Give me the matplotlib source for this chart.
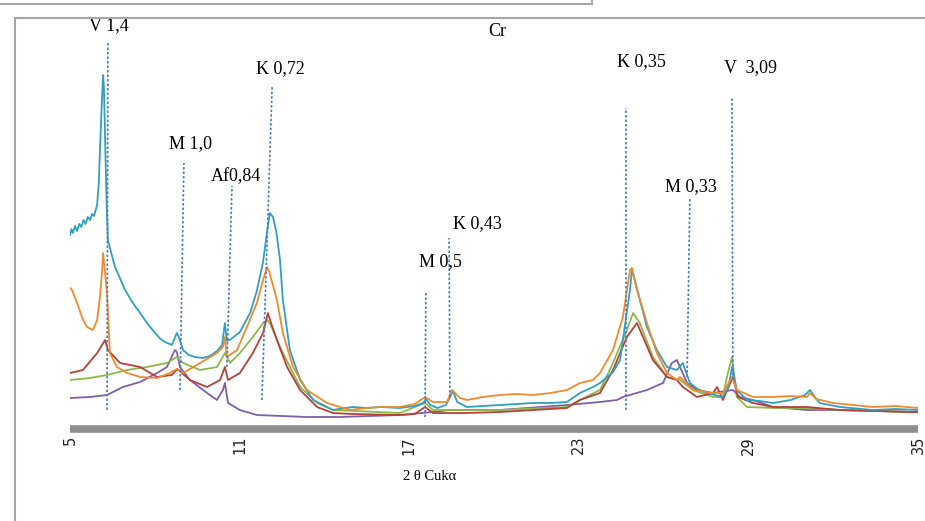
import matplotlib
matplotlib.use("Agg")
import matplotlib.pyplot as plt
from matplotlib.lines import Line2D

# 2theta (deg) and intensity (arbitrary units)
teal_x = [5.00, 5.05, 5.10, 5.18, 5.25, 5.33, 5.40, 5.48, 5.55, 5.63, 5.71, 5.78, 5.85, 5.92, 5.96, 6.02,
          6.06, 6.13, 6.17, 6.20, 6.24, 6.29, 6.34,
          6.45, 6.59, 6.75, 6.95, 7.20, 7.48, 7.75, 8.01, 8.20, 8.36, 8.60, 8.78, 8.85, 9.00, 9.20, 9.42,
          9.70, 9.95, 10.20, 10.38, 10.48, 10.55, 10.70, 11.01, 11.20, 11.37, 11.60, 11.83, 11.97, 12.07,
          12.18, 12.30, 12.43, 12.53, 12.78, 13.14, 13.60, 14.30, 15.00, 15.50, 16.00, 16.67, 17.20, 17.49,
          17.59, 17.75, 18.00, 18.30, 18.55, 18.70, 19.04, 19.60, 20.21, 20.80, 21.38, 22.00, 22.58, 23.04,
          23.50, 23.75, 24.21, 24.46, 24.70, 24.81, 24.88, 24.95, 25.16, 25.41, 25.76, 26.12, 26.47, 26.68,
          26.93, 27.20, 27.53, 28.10, 28.30, 28.42, 28.59, 28.95, 29.40, 29.87, 30.50, 31.00, 31.18, 31.40,
          31.53, 32.24, 33.40, 34.20, 35.00]
teal_y = [192, 198, 194, 201, 196, 203, 200, 207, 203, 210, 207, 213, 211, 218, 222, 245,
          277, 327, 352, 340, 290, 230, 187,
          175, 160, 150, 137, 125, 114, 103, 94, 88, 85, 82, 94, 90, 77, 72, 70,
          69, 71, 76, 82, 104, 86, 88, 95, 105, 114, 135, 165, 195, 214,
          210, 195, 167, 127, 77, 47, 27, 17, 20, 19, 20, 19, 21, 24,
          28, 22, 19, 22, 36, 25, 20, 21, 22, 23, 24, 24, 25, 34,
          40, 44, 55, 67, 115, 137, 157, 150, 127, 100, 77, 60, 57, 64,
          44, 38, 34, 30, 40, 60, 37, 27, 26, 24, 27, 32, 37, 28,
          24, 20, 17, 18, 17]

orange_x = [5.00, 5.07, 5.25, 5.45, 5.60, 5.81, 5.96, 6.06, 6.13, 6.17, 6.22, 6.31, 6.41, 6.66, 7.02,
            7.48, 8.08, 8.54, 8.78, 9.00, 9.60, 10.20, 10.41, 10.48, 10.55, 10.91, 11.26, 11.61, 11.83,
            11.97, 12.05, 12.32, 12.53, 12.89, 13.38, 14.09, 14.90, 15.50, 16.00, 16.67, 17.20, 17.56,
            17.84, 18.34, 18.51, 18.80, 19.04, 19.60, 20.21, 20.80, 21.38, 22.00, 22.58, 23.04, 23.50,
            23.75, 24.21, 24.56, 24.81, 24.88, 25.06, 25.41, 25.76, 26.12, 26.47, 26.58, 27.04, 27.75,
            28.10, 28.42, 28.59, 29.16, 29.87, 30.50, 31.07, 31.18, 31.40, 31.99, 33.40, 34.20, 35.00]
orange_y = [139, 137, 124, 108, 100, 97, 107, 130, 154, 174, 160, 134, 74, 60, 54,
            50, 49, 54, 58, 54, 64, 74, 80, 90, 70, 77, 100, 124, 147,
            160, 155, 127, 94, 60, 37, 24, 17, 19, 20, 20, 23, 30,
            25, 25, 37, 29, 27, 30, 32, 33, 32, 34, 37, 44, 47,
            54, 77, 110, 157, 159, 137, 104, 74, 54, 47, 50, 37, 34,
            34, 50, 37, 30, 30, 31, 30, 34, 28, 24, 20, 21, 19]

red_x = [5.00, 5.46, 5.96, 6.24, 6.34, 6.77, 7.48, 8.08, 8.60, 8.80, 9.24, 9.85, 10.31, 10.48, 10.59,
         11.01, 11.47, 11.83, 12.00, 12.10, 12.32, 12.68, 13.14, 13.74, 14.30, 15.00, 16.67, 17.20,
         17.56, 17.84, 19.00, 20.21, 21.40, 22.58, 23.04, 23.75, 24.21, 24.70, 25.06, 25.27, 25.62,
         26.12, 26.47, 26.68, 27.18, 27.75, 27.89, 28.10, 28.45, 28.63, 29.16, 29.87, 31.07, 32.24,
         34.82, 35.00]
red_y = [54, 57, 74, 87, 77, 64, 60, 50, 52, 58, 47, 40, 47, 60, 47,
         54, 74, 94, 114, 105, 87, 60, 37, 20, 14, 13, 12, 13,
         20, 14, 14, 15, 17, 19, 27, 34, 57, 90, 104, 90, 67,
         50, 47, 40, 30, 34, 40, 27, 50, 30, 24, 20, 20, 17,
         15, 15]

green_x = [5.00, 5.71, 6.31, 7.02, 7.72, 8.43, 8.78, 9.00, 9.60, 10.20, 10.48, 10.66, 11.01, 11.47,
           11.83, 11.97, 12.07, 12.43, 12.78, 13.14, 13.74, 14.30, 16.67, 17.56, 17.84, 20.21, 22.58,
           23.04, 23.75, 24.21, 24.70, 24.92, 25.16, 25.62, 26.12, 26.58, 27.04, 27.75, 28.10, 28.24,
           28.42, 28.59, 28.95, 29.87, 31.07, 32.24, 34.82, 35.00]
green_y = [47, 49, 52, 57, 60, 64, 70, 64, 57, 60, 74, 64, 74, 90,
           104, 107, 104, 80, 60, 40, 24, 17, 14, 24, 17, 17, 20,
           27, 37, 64, 97, 114, 104, 70, 50, 47, 37, 30, 30, 50,
           70, 30, 20, 19, 19, 17, 15, 15]

purple_x = [5.00, 5.71, 6.31, 6.87, 7.48, 8.08, 8.43, 8.71, 8.78, 8.89, 9.24, 9.85, 10.20, 10.41, 10.48,
            10.59, 11.01, 11.61, 13.38, 14.55, 16.67, 17.84, 18.44, 20.21, 22.58, 23.75, 24.35, 24.56,
            25.41, 25.98, 26.29, 26.47, 26.58, 26.83, 27.18, 27.75, 28.45, 28.70, 29.16, 29.87, 31.07,
            32.24, 34.82, 35.00]
purple_y = [29, 30, 32, 40, 45, 54, 60, 77, 75, 60, 47, 34, 27, 37, 44,
            24, 17, 12, 10, 10, 12, 15, 17, 17, 22, 25, 27, 30,
            37, 44, 64, 67, 60, 44, 37, 34, 37, 30, 27, 20, 17,
            17, 15, 15]

# reference lines: label, x at top, x at bottom, top, bottom
ref_labels = ["V 1,4", "M 1,0", "Af0,84", "K 0,72", "M 0,5", "K 0,43", "K 0,35", "M 0,33", "V  3,09"]
ref_x_top = [6.34, 9.03, 10.73, 12.15, 17.59, 18.41, 24.67, 26.93, 28.42]
ref_x_bot = [6.31, 8.89, 10.55, 11.79, 17.56, 18.44, 24.67, 26.83, 28.45]
ref_y_top = [385, 264, 241, 340, 134, 189, 319, 230, 329]
ref_y_bot = [17, 37, 60, 27, 10, 30, 17, 50, 47]
# label anchor points
lab_x = [6.38, 9.28, 10.87, 12.43, 18.09, 19.43, 25.23, 26.97, 29.09]
lab_y = [401, 283, 250, 358, 165, 203, 365, 240, 359]

W, H = 925, 521
fig = plt.figure(figsize=(W / 100, H / 100), dpi=100)
ax = fig.add_axes([70 / W, 1 - 429 / H, 848 / W, 409 / H])

ax.plot(purple_x, purple_y, color="#7F5FA8", lw=1.3)
ax.plot(green_x, green_y, color="#8DB84A", lw=1.3)
ax.plot(red_x, red_y, color="#B8403A", lw=1.3)
ax.plot(teal_x, teal_y, color="#2F9FC2", lw=1.3)
ax.plot(orange_x, orange_y, color="#F08A2E", lw=1.3)

for xt, xb, yt, yb in zip(ref_x_top, ref_x_bot, ref_y_top, ref_y_bot):
    ax.plot([xb, xt], [yb, yt], color="#4A7CC8", lw=1.2, linestyle=(0, (1.5, 1.2)))

for t, x, y in zip(ref_labels, lab_x, lab_y):
    ax.text(x, y, t, ha="center", va="center", fontsize=13, family="Liberation Serif")
ax.text(20.1, 396, "Cr", ha="center", va="center", fontsize=13, family="Liberation Serif")

ax.set_xlim(5, 35)
ax.set_ylim(-2, 407)
ax.set_xticks([5, 11, 17, 23, 29, 35])
ax.tick_params(axis="x", length=0, pad=5, labelsize=10.5, labelrotation=90, colors="#222222")
ax.set_yticks([])
for s in ["top", "right", "left"]:
    ax.spines[s].set_visible(False)
ax.spines["bottom"].set_color("#8f8f8f")
ax.spines["bottom"].set_linewidth(5.5)
ax.spines["bottom"].set_capstyle("butt")

ax.set_xlabel("2 θ Cukα", fontsize=10.5, family="Liberation Serif")
ax.xaxis.set_label_coords((430 - 70) / 848, -0.10)

# surrounding frame lines
frame = "#a6a6a6"
fig.add_artist(Line2D([15 / W, 1], [1 - 18 / H, 1 - 18 / H], color=frame, lw=1.5))
fig.add_artist(Line2D([15 / W, 15 / W], [0, 1 - 18 / H], color=frame, lw=1.5))
fig.add_artist(Line2D([0, 592 / W], [1 - 4 / H, 1 - 4 / H], color=frame, lw=1.5))
fig.add_artist(Line2D([592 / W, 592 / W], [1 - 4 / H, 1], color=frame, lw=1.5))

fig.savefig("out.png", dpi=100)
